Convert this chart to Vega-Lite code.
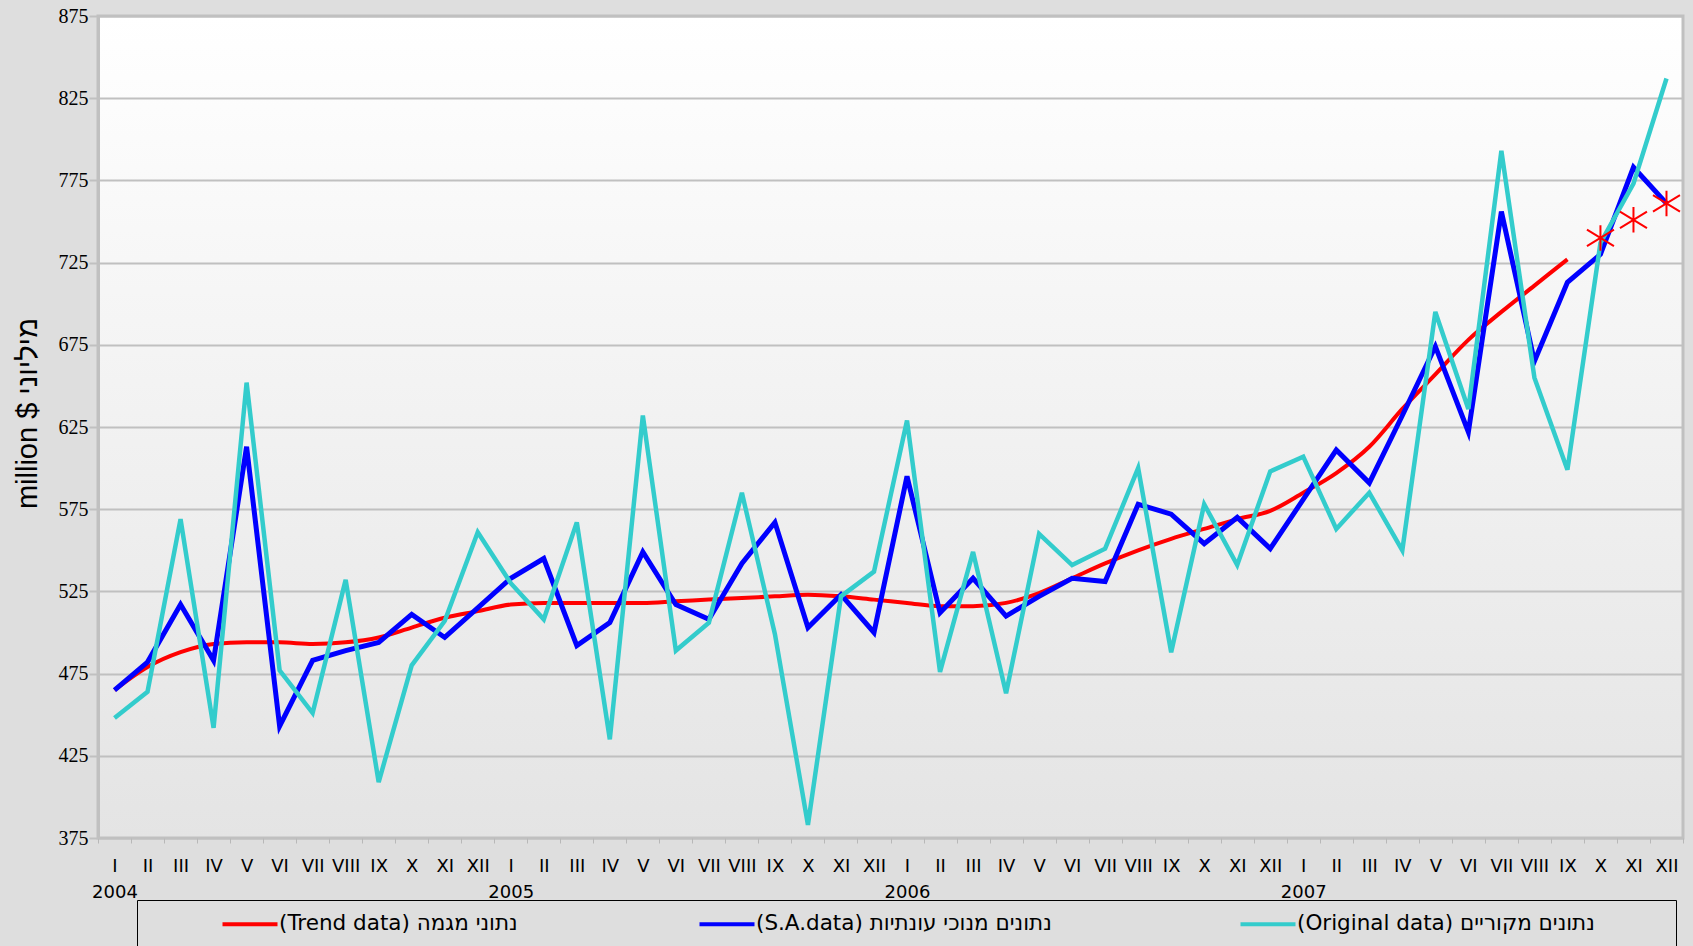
{
  "$schema": "https://vega.github.io/schema/vega-lite/v6.json",
  "width": 1585,
  "height": 822,
  "autosize": {"type": "none"},
  "padding": {"left": 98, "top": 16, "right": 10, "bottom": 108},
  "background": "#dedede",
  "config": {
    "view": {
      "fill": {"gradient": "linear", "x1": 0, "y1": 0, "x2": 0, "y2": 1, "stops": [{"offset": 0, "color": "#ffffff"}, {"offset": 1, "color": "#e4e4e4"}]},
      "stroke": "#c0c0c0",
      "strokeWidth": 3
    }
  },
  "data": {
    "values": [
      {"idx": 0, "trend": 465, "sa": 465, "orig": 448, "forecast": null},
      {"idx": 1, "trend": 479, "sa": 482, "orig": 464, "forecast": null},
      {"idx": 2, "trend": 488, "sa": 517, "orig": 569, "forecast": null},
      {"idx": 3, "trend": 493, "sa": 483, "orig": 442, "forecast": null},
      {"idx": 4, "trend": 494, "sa": 613, "orig": 652, "forecast": null},
      {"idx": 5, "trend": 494, "sa": 443, "orig": 477, "forecast": null},
      {"idx": 6, "trend": 493, "sa": 483, "orig": 451, "forecast": null},
      {"idx": 7, "trend": 494, "sa": 489, "orig": 532, "forecast": null},
      {"idx": 8, "trend": 497, "sa": 494, "orig": 409, "forecast": null},
      {"idx": 9, "trend": 503, "sa": 511, "orig": 480, "forecast": null},
      {"idx": 10, "trend": 509, "sa": 497, "orig": 507, "forecast": null},
      {"idx": 11, "trend": 513, "sa": 515, "orig": 561, "forecast": null},
      {"idx": 12, "trend": 517, "sa": 533, "orig": 530, "forecast": null},
      {"idx": 13, "trend": 518, "sa": 545, "orig": 508, "forecast": null},
      {"idx": 14, "trend": 518, "sa": 492, "orig": 567, "forecast": null},
      {"idx": 15, "trend": 518, "sa": 506, "orig": 435, "forecast": null},
      {"idx": 16, "trend": 518, "sa": 549, "orig": 632, "forecast": null},
      {"idx": 17, "trend": 519, "sa": 517, "orig": 489, "forecast": null},
      {"idx": 18, "trend": 520, "sa": 508, "orig": 506, "forecast": null},
      {"idx": 19, "trend": 521, "sa": 542, "orig": 585, "forecast": null},
      {"idx": 20, "trend": 522, "sa": 567, "orig": 499, "forecast": null},
      {"idx": 21, "trend": 523, "sa": 503, "orig": 383, "forecast": null},
      {"idx": 22, "trend": 522, "sa": 523, "orig": 522, "forecast": null},
      {"idx": 23, "trend": 520, "sa": 500, "orig": 537, "forecast": null},
      {"idx": 24, "trend": 518, "sa": 595, "orig": 629, "forecast": null},
      {"idx": 25, "trend": 516, "sa": 512, "orig": 476, "forecast": null},
      {"idx": 26, "trend": 516, "sa": 533, "orig": 549, "forecast": null},
      {"idx": 27, "trend": 518, "sa": 510, "orig": 463, "forecast": null},
      {"idx": 28, "trend": 524, "sa": 522, "orig": 560, "forecast": null},
      {"idx": 29, "trend": 533, "sa": 533, "orig": 541, "forecast": null},
      {"idx": 30, "trend": 542, "sa": 531, "orig": 551, "forecast": null},
      {"idx": 31, "trend": 550, "sa": 578, "orig": 600, "forecast": null},
      {"idx": 32, "trend": 557, "sa": 572, "orig": 488, "forecast": null},
      {"idx": 33, "trend": 563, "sa": 554, "orig": 578, "forecast": null},
      {"idx": 34, "trend": 569, "sa": 570, "orig": 541, "forecast": null},
      {"idx": 35, "trend": 574, "sa": 551, "orig": 598, "forecast": null},
      {"idx": 36, "trend": 585, "sa": 581, "orig": 607, "forecast": null},
      {"idx": 37, "trend": 597, "sa": 611, "orig": 563, "forecast": null},
      {"idx": 38, "trend": 613, "sa": 591, "orig": 585, "forecast": null},
      {"idx": 39, "trend": 636, "sa": 632, "orig": 550, "forecast": null},
      {"idx": 40, "trend": 657, "sa": 674, "orig": 695, "forecast": null},
      {"idx": 41, "trend": 678, "sa": 622, "orig": 636, "forecast": null},
      {"idx": 42, "trend": 695, "sa": 756, "orig": 793, "forecast": null},
      {"idx": 43, "trend": 711, "sa": 665, "orig": 655, "forecast": null},
      {"idx": 44, "trend": 727, "sa": 713, "orig": 599, "forecast": null},
      {"idx": 45, "trend": null, "sa": 730, "orig": 737, "forecast": 740},
      {"idx": 46, "trend": null, "sa": 783, "orig": 773, "forecast": 751},
      {"idx": 47, "trend": null, "sa": 761, "orig": 837, "forecast": 761}
    ]
  },
  "encoding": {
    "x": {
      "field": "idx",
      "type": "ordinal",
      "scale": {"paddingInner": 0, "paddingOuter": 0},
      "axis": {
        "title": null,
        "labelAngle": 0,
        "labelFont": "DejaVu Sans",
        "labelFontSize": 18,
        "labelColor": "black",
        "labelLineHeight": 26,
        "labelPadding": 14,
        "labelBaseline": "top",
        "labelExpr": "datum.value % 12 == 0 ? [['I','II','III','IV','V','VI','VII','VIII','IX','X','XI','XII'][datum.value % 12], '' + (2004 + floor(datum.value / 12))] : ['I','II','III','IV','V','VI','VII','VIII','IX','X','XI','XII'][datum.value % 12]",
        "tickBand": "extent",
        "tickColor": "#b8b8b8",
        "tickSize": 5,
        "tickWidth": 1,
        "domain": false,
        "grid": false
      }
    }
  },
  "layer": [
    {
      "mark": {"type": "line", "strokeWidth": 4, "interpolate": "monotone"},
      "encoding": {
        "y": {
          "field": "trend",
          "type": "quantitative",
          "title": "million $ מיליוני",
          "scale": {"domain": [375, 875], "nice": false, "zero": false},
          "axis": {
            "values": [375, 425, 475, 525, 575, 625, 675, 725, 775, 825, 875],
            "labelFont": "Liberation Serif",
            "labelFontSize": 20,
            "labelColor": "black",
            "labelPadding": 1,
            "tickColor": "#c0c0c0",
            "tickSize": 9,
            "tickWidth": 2,
            "domainColor": "#c0c0c0",
            "domainWidth": 3,
            "gridColor": "#c0c0c0",
            "gridWidth": 2,
            "gridOpacity": 1,
            "titleFont": "Liberation Sans",
            "titleFontSize": 29,
            "titleFontWeight": "normal",
            "titleColor": "black",
            "titleAngle": -90,
            "titleX": -71,
            "titleY": 397,
            "titleAlign": "center",
            "titleBaseline": "middle"
          }
        },
        "color": {
          "datum": "(Trend data) נתוני מגמה",
          "type": "nominal",
          "scale": {
            "domain": ["(Trend data) נתוני מגמה", "(S.A.data)  נתונים מנוכי עונתיות", "(Original data)  נתונים מקוריים"],
            "range": ["#ff0000", "#0000ff", "#33cccc"]
          },
          "legend": {
            "orient": "none",
            "legendX": 39,
            "legendY": 884,
            "direction": "horizontal",
            "columns": 3,
            "columnPadding": 173,
            "padding": 11,
            "strokeColor": "black",
            "title": "\u00a0",
            "titleOrient": "left",
            "titlePadding": 72,
            "titleFontSize": 11,
            "symbolType": "M-2.5,0H2.5",
            "symbolSize": 484,
            "symbolStrokeWidth": 4,
            "symbolOffset": 17,
            "labelOffset": 16,
            "labelFont": "DejaVu Sans",
            "labelFontSize": 21.5,
            "labelColor": "black",
            "labelLimit": 1000,
            "labelExpr": "datum.label == '(Original data)  נתונים מקוריים' ? datum.label + '\u2800\u2800\u2800\u2800' : datum.label"
          }
        }
      }
    },
    {
      "mark": {"type": "line", "strokeWidth": 5},
      "encoding": {
        "y": {"field": "sa", "type": "quantitative", "title": "million $ מיליוני"},
        "color": {"datum": "(S.A.data)  נתונים מנוכי עונתיות", "type": "nominal"}
      }
    },
    {
      "mark": {"type": "line", "strokeWidth": 4.5},
      "encoding": {
        "y": {"field": "orig", "type": "quantitative", "title": "million $ מיליוני"},
        "color": {"datum": "(Original data)  נתונים מקוריים", "type": "nominal"}
      }
    },
    {
      "mark": {"type": "point", "shape": "M0,-0.85V0.85M-0.9,-0.55L0.9,0.55M-0.9,0.55L0.9,-0.55", "size": 900, "filled": false, "strokeWidth": 2, "color": "#ff0000", "opacity": 1},
      "encoding": {
        "y": {"field": "forecast", "type": "quantitative", "title": "million $ מיליוני"}
      }
    }
  ]
}
